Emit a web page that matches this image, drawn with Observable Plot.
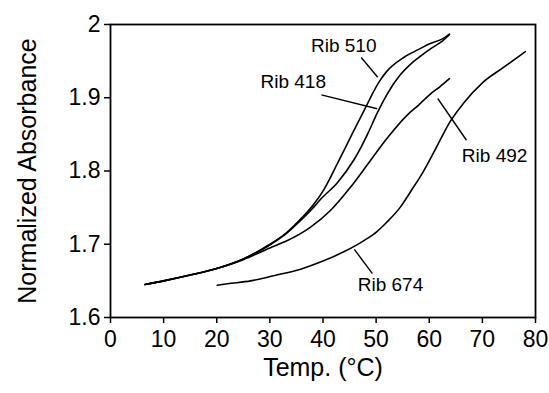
<!DOCTYPE html>
<html>
<head>
<meta charset="utf-8">
<script src="https://cdn.jsdelivr.net/npm/d3@7"></script>
<script src="https://cdn.jsdelivr.net/npm/@observablehq/plot@0.6"></script>
<style>
  html, body { margin: 0; padding: 0; background: #fff; }
  #chart { width: 549px; height: 393px; }
</style>
</head>
<body>
<div id="chart"></div>
<script>
// ---- Data ----
const xTicks = [0, 10, 20, 30, 40, 50, 60, 70, 80];
const yTicks = [1.6, 1.7, 1.8, 1.9, 2];
const xLabel = "Temp. (°C)";
const yLabel = "Normalized Absorbance";

const rib510T = [6.5, 10, 15, 20, 25, 30, 33, 36, 38.3, 40.2, 42.7, 45.8, 47.7, 49, 50.5, 52, 55.2, 58, 60.2, 62.4, 63.8];
const rib510V = [1.645, 1.650, 1.658, 1.667, 1.680, 1.700, 1.715, 1.736, 1.755, 1.775, 1.810, 1.855, 1.882, 1.901, 1.921, 1.936, 1.955, 1.966, 1.974, 1.980, 1.987];

const rib418T = [6.5, 10, 15, 20, 25, 30, 33, 36, 38.3, 39.5, 42.7, 45.8, 47.2, 48.5, 50.2, 52, 54.5, 56.5, 58.4, 60.5, 62.4, 63.8];
const rib418V = [1.645, 1.650, 1.658, 1.667, 1.680, 1.699, 1.714, 1.734, 1.751, 1.761, 1.784, 1.815, 1.833, 1.852, 1.879, 1.904, 1.931, 1.946, 1.957, 1.968, 1.977, 1.986];

const rib492T = [6.5, 10, 15, 20, 25, 30, 33.3, 37.6, 41.4, 45.2, 48.9, 52.1, 55.8, 58, 60.2, 62, 63.8];
const rib492V = [1.645, 1.650, 1.658, 1.667, 1.679, 1.695, 1.705, 1.723, 1.746, 1.778, 1.814, 1.845, 1.876, 1.890, 1.905, 1.915, 1.926];

const rib674T = [20.1, 22, 26.4, 30.7, 35.8, 40, 44, 47.7, 50.1, 52, 54.6, 56.5, 58.8, 61.4, 63.9, 66.4, 70.1, 73.9, 78.1];
const rib674V = [1.644, 1.646, 1.650, 1.657, 1.666, 1.677, 1.690, 1.705, 1.717, 1.730, 1.751, 1.772, 1.798, 1.833, 1.867, 1.892, 1.921, 1.941, 1.963];

// annotations (data coordinates)
const labelText = ["Rib 510", "Rib 418", "Rib 492", "Rib 674"];
const labelT = [43.9, 34.4, 72.3, 52.7];
const labelV = [1.971, 1.921, 1.820, 1.644];
const leaderT1 = [47.2, 39.7, 61.6, 45.9];
const leaderV1 = [1.955, 1.904, 1.899, 1.693];
const leaderT2 = [50.3, 50.2, 67.0, 49.3];
const leaderV2 = [1.928, 1.885, 1.842, 1.660];

// ---- Build tables ----
const seriesDefs = [
  ["Rib 510", rib510T, rib510V],
  ["Rib 418", rib418T, rib418V],
  ["Rib 492", rib492T, rib492V],
  ["Rib 674", rib674T, rib674V]
];
const rows = seriesDefs.flatMap(([name, ts, vs]) => ts.map((t, i) => ({series: name, t, v: vs[i]})));
const labels = labelText.map((text, i) => ({text, t: labelT[i], v: labelV[i]}));
const leaders = labelText.map((text, i) => ({x1: leaderT1[i], y1: leaderV1[i], x2: leaderT2[i], y2: leaderV2[i]}));

const font = "'Liberation Sans', Arial, Helvetica, sans-serif";

const chart = Plot.plot({
  width: 549,
  height: 393,
  marginLeft: 110,
  marginRight: 14,
  marginTop: 24,
  marginBottom: 76,
  style: {fontFamily: font, background: "#fff", color: "#000", overflow: "visible"},
  x: {domain: [0, 80]},
  y: {domain: [1.6, 2]},
  marks: [
    Plot.axisX({ticks: xTicks, tickSize: 6, tickPadding: 7, fontSize: 23, label: null, strokeWidth: 1.5}),
    Plot.axisY({ticks: yTicks, tickSize: 6, tickPadding: 4, fontSize: 23, label: null, strokeWidth: 1.5, tickFormat: d => String(d)}),
    Plot.frame({stroke: "#000", strokeWidth: 1.8}),
    Plot.line(rows, {x: "t", y: "v", z: "series", stroke: "#000", strokeWidth: 1.6, curve: "monotone-x"}),
    Plot.link(leaders, {x1: "x1", y1: "y1", x2: "x2", y2: "y2", stroke: "#000", strokeWidth: 1.4}),
    Plot.text(labels, {x: "t", y: "v", text: "text", fontSize: 19, fill: "#000", textAnchor: "middle", lineAnchor: "middle"}),
    Plot.text([xLabel], {frameAnchor: "bottom", dy: 50, text: d => d, fontSize: 25, fill: "#000", textAnchor: "middle", lineAnchor: "middle"}),
    Plot.text([yLabel], {frameAnchor: "left", dx: -83, rotate: -90, text: d => d, fontSize: 25, fill: "#000", textAnchor: "middle", lineAnchor: "middle"})
  ]
});
document.getElementById("chart").appendChild(chart);
</script>
</body>
</html>
